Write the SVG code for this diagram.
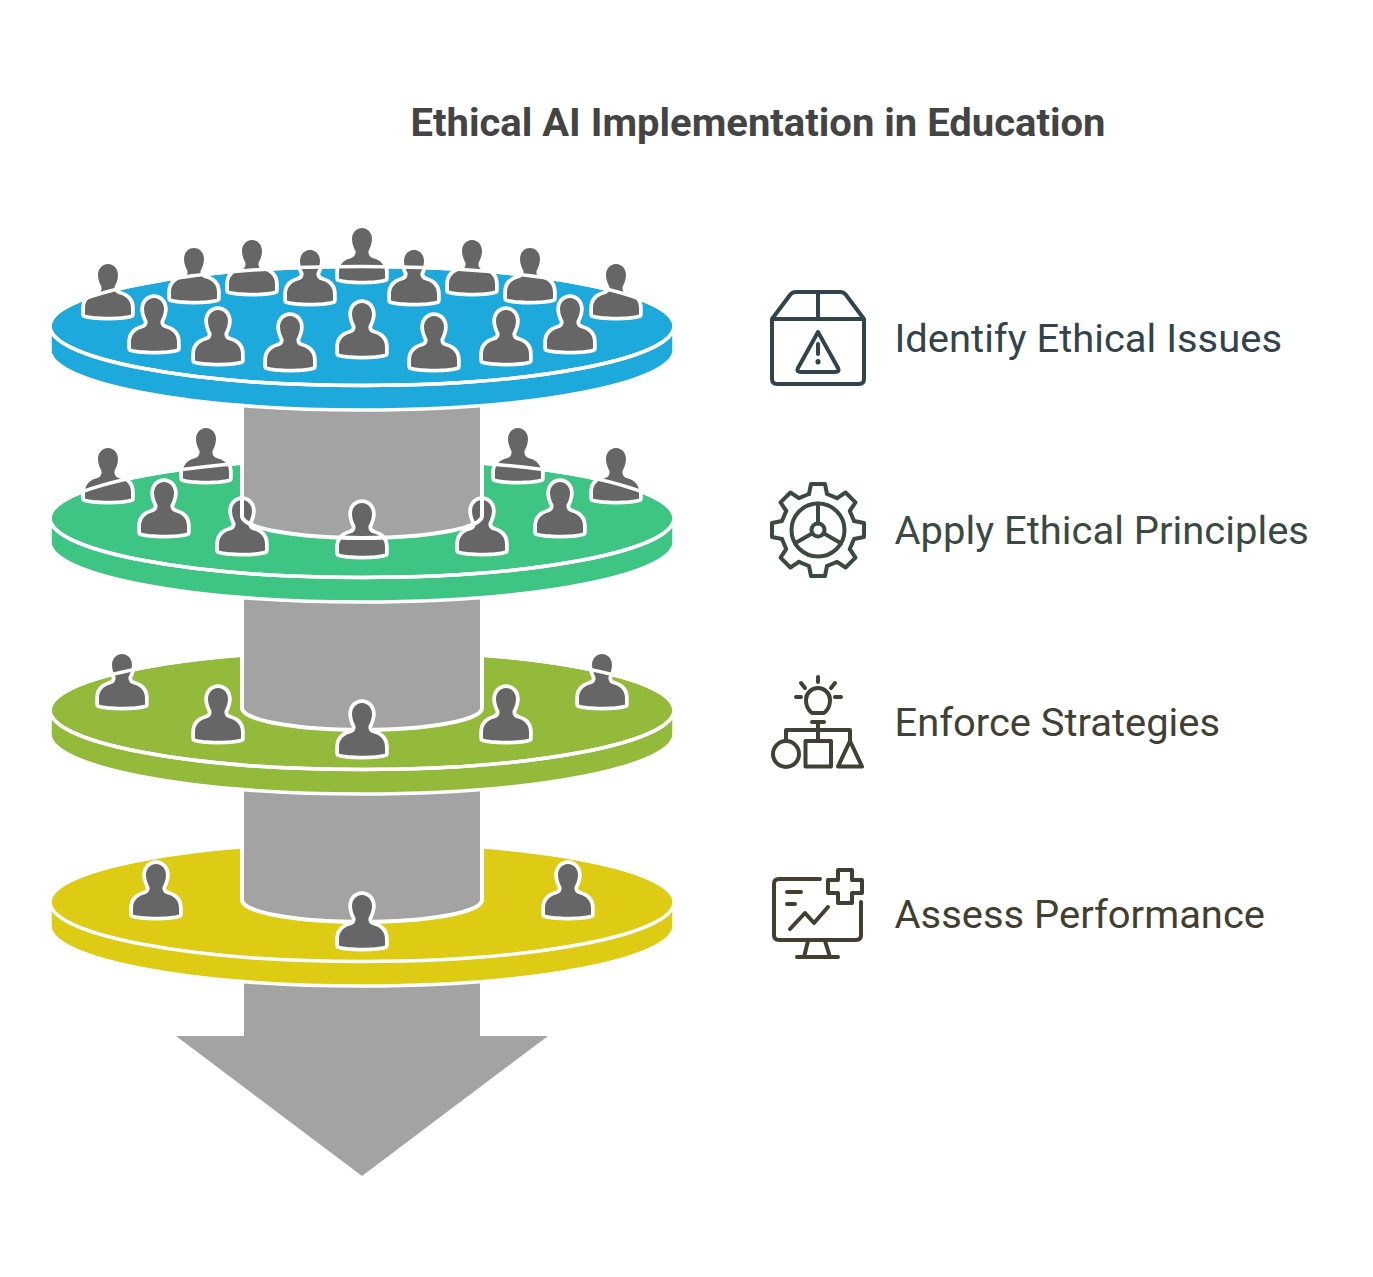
<svg xmlns="http://www.w3.org/2000/svg" xmlns:xlink="http://www.w3.org/1999/xlink" width="1373" height="1277" viewBox="0 0 1373 1277">
<style>
text{font-family:Roboto,"Liberation Sans",sans-serif}
.title{font-size:38px;font-weight:700;fill:#444444}
.label{font-size:38px}
.p{fill:#666666;stroke:#fff;stroke-width:7.5;paint-order:stroke;stroke-linejoin:round}
.side,.top{stroke:#fff;stroke-width:3.5}
.rim{fill:none;stroke:#fff;stroke-width:3.5}
.cyl{fill:#a3a3a3}
.edge{fill:none;stroke:#fff;stroke-width:4;stroke-linecap:round}
.ic{fill:none;stroke-width:4;stroke-linecap:round;stroke-linejoin:round}
</style>
<defs>
<path id="person" class="p" d="M0 -52C6 -52 10 -47 10 -41C10 -36 8 -32 6.500 -29C6 -25 8 -22.500 12 -21.500C19 -19.500 23 -15 23 -8L23 -1.500C15 1.500 -15 1.500 -23 -1.500L-23 -8C-23 -15 -19 -19.500 -12 -21.500C-8 -22.500 -6 -25 -6.500 -29C-8 -32 -10 -36 -10 -41C-10 -47 -6 -52 0 -52Z"/>
<polyline id="gearseg" points="-9,-36 -7,-46 7,-46 9,-36 19.1,-31.8"/>
</defs>
<rect width="1373" height="1277" fill="#fff"/>
<text class="title" x="758" y="135.500" text-anchor="middle" textLength="695" lengthAdjust="spacingAndGlyphs">Ethical AI Implementation in Education</text>

<g id="connectors">
<path id="arrow" class="cyl" d="M244 975H480V1036H548L362 1176L176 1036H244Z"/>
</g>

<g id="level-yellow">
<path class="side" fill="#DECB13" d="M50 902V926A312 60 0 0 0 674 926V902Z"/>
<ellipse class="top" fill="#DECB13" cx="362" cy="902" rx="312" ry="59.500"/>
<path class="cyl" d="M244 780H480V900A118 20 0 0 1 244 900Z"/>
<path class="edge" d="M242 830V900A120 22 0 0 0 482 900V830"/>
<use xlink:href="#person" x="156" y="916"/>
<use xlink:href="#person" x="362" y="947"/>
<use xlink:href="#person" x="568" y="916"/>
</g>

<g id="level-olive">
<path class="side" fill="#93BA3A" d="M50 710V734A312 60 0 0 0 674 734V710Z"/>
<ellipse class="top" fill="#93BA3A" cx="362" cy="710" rx="312" ry="59.500"/>
<path class="cyl" d="M244 588H480V708A118 20 0 0 1 244 708Z"/>
<path class="edge" d="M242 640V708A120 22 0 0 0 482 708V640"/>
<use xlink:href="#person" x="122" y="706"/>
<use xlink:href="#person" x="218" y="740"/>
<use xlink:href="#person" x="362" y="755"/>
<use xlink:href="#person" x="506" y="740"/>
<use xlink:href="#person" x="602" y="706"/>
<path class="rim" d="M50 710A312 59.500 0 0 1 242 655.200M482 655.200A312 59.500 0 0 1 674 710A312 59.500 0 0 1 50 710"/>
</g>

<g id="level-green">
<path class="side" fill="#3EC584" d="M50 518V542A312 60 0 0 0 674 542V518Z"/>
<ellipse class="top" fill="#3EC584" cx="362" cy="518" rx="312" ry="59.500"/>
<path class="cyl" d="M244 396H480V516A118 20 0 0 1 244 516Z"/>
<use xlink:href="#person" x="108" y="500"/>
<use xlink:href="#person" x="206" y="480"/>
<use xlink:href="#person" x="164" y="534"/>
<use xlink:href="#person" x="242" y="552"/>
<use xlink:href="#person" x="362" y="555"/>
<use xlink:href="#person" x="482" y="552"/>
<use xlink:href="#person" x="560" y="534"/>
<use xlink:href="#person" x="518" y="480"/>
<use xlink:href="#person" x="616" y="500"/>
<path class="rim" d="M50 518A312 59.500 0 0 1 242 463.200M482 463.200A312 59.500 0 0 1 674 518A312 59.500 0 0 1 50 518"/>
<path class="edge" d="M242 450V516A120 22 0 0 0 482 516V450"/>
</g>

<g id="level-blue">
<path class="side" fill="#1DA9DC" d="M50 326V350A312 60 0 0 0 674 350V326Z"/>
<ellipse class="top" fill="#1DA9DC" cx="362" cy="326" rx="312" ry="59.500"/>
<use xlink:href="#person" x="108" y="316"/>
<use xlink:href="#person" x="194" y="300"/>
<use xlink:href="#person" x="252" y="292"/>
<use xlink:href="#person" x="310" y="302"/>
<use xlink:href="#person" x="362" y="280"/>
<use xlink:href="#person" x="414" y="302"/>
<use xlink:href="#person" x="472" y="292"/>
<use xlink:href="#person" x="530" y="300"/>
<use xlink:href="#person" x="616" y="316"/>
<use xlink:href="#person" x="154" y="350"/>
<use xlink:href="#person" x="218" y="362"/>
<use xlink:href="#person" x="290" y="368"/>
<use xlink:href="#person" x="362" y="355"/>
<use xlink:href="#person" x="434" y="368"/>
<use xlink:href="#person" x="506" y="362"/>
<use xlink:href="#person" x="570" y="350"/>
<ellipse class="rim" cx="362" cy="326" rx="312" ry="59.500"/>
</g>

<g id="item-identify">
<g class="ic" stroke="#33434B">
<path d="M772 319H864V379Q864 384 859 384H777Q772 384 772 379ZM772 319L790 295Q792 292 796 292H840Q844 292 846 295L864 319M818 292V319"/>
<path d="M818 332L838 368Q840 372 835 372H801Q796 372 798 368Z"/>
<path d="M818 344V354"/>
<path d="M818 361.500V362" stroke-width="5"/>
</g>
<text class="label" x="894.500" y="352" fill="#33434B" textLength="387.500" lengthAdjust="spacingAndGlyphs">Identify Ethical Issues</text>
</g>

<g id="item-apply">
<g class="ic" stroke="#3A4A43">
<g transform="translate(818 530)">
<use xlink:href="#gearseg"/>
<use xlink:href="#gearseg" transform="rotate(45)"/>
<use xlink:href="#gearseg" transform="rotate(90)"/>
<use xlink:href="#gearseg" transform="rotate(135)"/>
<use xlink:href="#gearseg" transform="rotate(180)"/>
<use xlink:href="#gearseg" transform="rotate(225)"/>
<use xlink:href="#gearseg" transform="rotate(270)"/>
<use xlink:href="#gearseg" transform="rotate(315)"/>
<circle r="26.500"/>
<circle r="6.500"/>
<path d="M0 -6.500V-26.500M5.600 3.300L23 13.200M-5.600 3.300L-23 13.200"/>
</g>
</g>
<text class="label" x="894.500" y="544" fill="#3A4A43" textLength="414.500" lengthAdjust="spacingAndGlyphs">Apply Ethical Principles</text>
</g>

<g id="item-enforce">
<g class="ic" stroke="#424035">
<path d="M812 713C808 710 806 705 806 700A12 12 0 0 1 830 700C830 705 828 710 824 713Z"/>
<path d="M812 722H824M818 722V741M786 741V730H850V741"/>
<path d="M818 677V682M801 683L805 688M835 683L831 688M796 697H801M835 697H841"/>
<circle cx="786" cy="754" r="13"/>
<rect x="805.500" y="741" width="25.500" height="25.500"/>
<path d="M850 741L862 766.500H838Z"/>
</g>
<text class="label" x="894.500" y="736" fill="#424035" textLength="325.500" lengthAdjust="spacingAndGlyphs">Enforce Strategies</text>
</g>

<g id="item-assess">
<g class="ic" stroke="#423F30">
<path d="M820 879H779Q774 879 774 884V935Q774 940 779 940H856Q861 940 861 935V902"/>
<path d="M808 941L804 957M825 941L830 957M797 957H838"/>
<path d="M787 892H801M787 904H795"/>
<path d="M790 929L805 913L814 923L828 907"/>
<path d="M838 870H852V880H862V893H852V903H838V893H828V880H838Z"/>
</g>
<text class="label" x="894.500" y="928" fill="#423F30" textLength="370.500" lengthAdjust="spacingAndGlyphs">Assess Performance</text>
</g>
</svg>
